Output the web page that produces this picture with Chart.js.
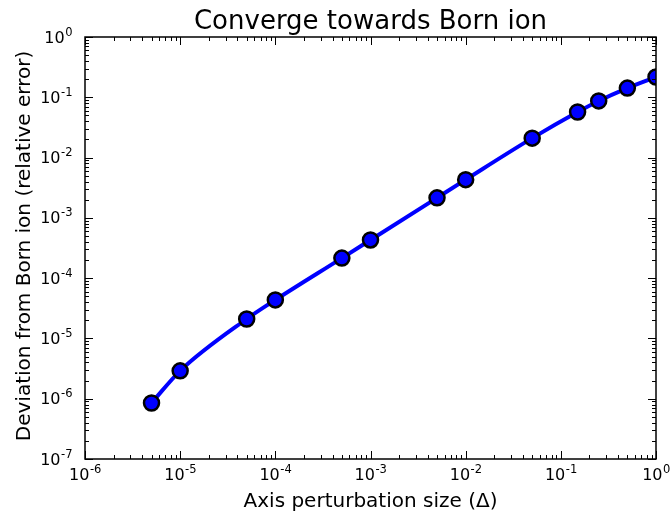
<!DOCTYPE html>
<html><head><meta charset="utf-8">
<script src="https://cdn.jsdelivr.net/npm/chart.js@4/dist/chart.umd.min.js"></script>
<style>html,body{margin:0;padding:0;background:#fff;}#wrap{width:671px;height:513px;}</style>
</head><body><div id="wrap"><canvas id="c" width="671" height="513"></canvas></div>
<script>
const titleText = "Converge towards Born ion";
const xLabel = "Axis perturbation size (\u0394)";
const yLabel = "Deviation from Born ion (relative error)";
const perturbation = [5e-6, 1e-5, 5e-5, 1e-4, 5e-4, 1e-3, 5e-3, 1e-2, 5e-2, 0.15, 0.25, 0.5, 1.0];
const deviation = [8.5e-7, 2.9e-6, 2.1e-5, 4.35e-5, 2.15e-4, 4.3e-4, 2.15e-3, 4.3e-3, 2.1e-2, 5.7e-2, 8.7e-2, 1.42e-1, 2.17e-1];
const xTickExponents = [-6, -5, -4, -3, -2, -1, 0];
const yTickExponents = [-7, -6, -5, -4, -3, -2, -1, 0];

const FONT = "'DejaVu Sans', sans-serif";

function drawPow(ctx, exp, x, baseY, align) {
  const base = "10", sup = String(exp);
  ctx.font = "16px " + FONT;
  const w1 = ctx.measureText(base).width;
  ctx.font = "11.5px " + FONT;
  const w2 = ctx.measureText(sup).width;
  let sx;
  if (align === 'right') sx = x - w1 - w2;
  else sx = x - (w1 + w2) / 2;
  ctx.textAlign = 'left';
  ctx.textBaseline = 'alphabetic';
  ctx.font = "16px " + FONT;
  ctx.fillText(base, sx, baseY);
  ctx.font = "11.5px " + FONT;
  ctx.fillText(sup, sx + w1 + 0.5, baseY - 7);
}

const decorPlugin = {
  id: 'decor',
  afterDatasetsDraw(chart) {
    const ctx = chart.ctx;
    const a = chart.chartArea;
    const xs = chart.scales.x, ys = chart.scales.y;
    ctx.save();
    ctx.strokeStyle = '#000';
    ctx.fillStyle = '#000';
    ctx.lineWidth = 1;
    ctx.beginPath();
    for (let e = xTickExponents[0]; e <= xTickExponents[xTickExponents.length - 1]; e++) {
      for (let m = 1; m <= 9; m++) {
        const v = m * Math.pow(10, e);
        if (v < xs.min * 0.999 || v > xs.max * 1.001) continue;
        const px = Math.round(xs.getPixelForValue(v)) + 0.5;
        const len = m === 1 ? 8 : 4;
        ctx.moveTo(px, a.bottom); ctx.lineTo(px, a.bottom - len);
        ctx.moveTo(px, a.top); ctx.lineTo(px, a.top + len);
      }
    }
    for (let e = yTickExponents[0]; e <= yTickExponents[yTickExponents.length - 1]; e++) {
      for (let m = 1; m <= 9; m++) {
        const v = m * Math.pow(10, e);
        if (v < ys.min * 0.999 || v > ys.max * 1.001) continue;
        const py = Math.round(ys.getPixelForValue(v)) + 0.5;
        const len = m === 1 ? 8 : 4;
        ctx.moveTo(a.left, py); ctx.lineTo(a.left + len, py);
        ctx.moveTo(a.right, py); ctx.lineTo(a.right - len, py);
      }
    }
    ctx.stroke();
    ctx.lineWidth = 1.5;
    ctx.strokeRect(a.left, a.top, a.right - a.left, a.bottom - a.top);
    xTickExponents.forEach(e => {
      const px = xs.getPixelForValue(Math.pow(10, e));
      drawPow(ctx, e, px, a.bottom + 21, 'center');
    });
    yTickExponents.forEach(e => {
      const py = ys.getPixelForValue(Math.pow(10, e));
      drawPow(ctx, e, a.left - 13, py + 5.5, 'right');
    });
    ctx.textAlign = 'center';
    ctx.textBaseline = 'alphabetic';
    ctx.font = "26px " + FONT;
    ctx.fillText(titleText, (a.left + a.right) / 2, 29);
    ctx.font = "20px " + FONT;
    ctx.fillText(xLabel, (a.left + a.right) / 2, 507);
    ctx.translate(30, (a.top + a.bottom) / 2 - 2);
    ctx.rotate(-Math.PI / 2);
    ctx.fillText(yLabel, 0, 0);
    ctx.restore();
  }
};

new Chart(document.getElementById('c'), {
  type: 'scatter',
  data: {
    datasets: [{
      data: perturbation.map((x, i) => ({ x: x, y: deviation[i] })),
      showLine: true,
      borderColor: '#0000ff',
      borderWidth: 4,
      cubicInterpolationMode: 'monotone',
      pointRadius: 7.5,
      pointHoverRadius: 7.5,
      pointBackgroundColor: '#0000ff',
      pointBorderColor: '#000000',
      pointBorderWidth: 2.5,
      clip: 0
    }]
  },
  options: {
    responsive: false,
    animation: false,
    events: [],
    layout: { padding: { left: 85, right: 15, top: 37, bottom: 54 } },
    plugins: { legend: { display: false }, title: { display: false }, tooltip: { enabled: false } },
    scales: {
      x: { type: 'logarithmic', min: 1e-6, max: 1, display: false },
      y: { type: 'logarithmic', min: 1e-7, max: 1, display: false }
    }
  },
  plugins: [decorPlugin]
});
</script>
</body></html>
